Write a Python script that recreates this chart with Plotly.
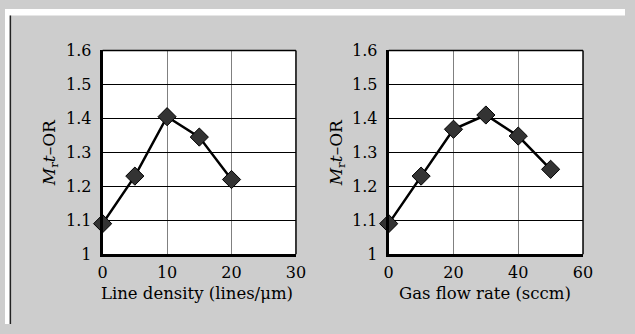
import plotly.graph_objects as go

# Data
x_left = [0, 5, 10, 15, 20]
y_left = [1.09, 1.23, 1.405, 1.345, 1.22]
x_right = [0, 10, 20, 30, 40, 50]
y_right = [1.09, 1.23, 1.368, 1.41, 1.348, 1.25]

x_left_title = "Line density (lines/μm)"
x_right_title = "Gas flow rate (sccm)"
y_title = "<i>M</i><sub>r</sub><i>t</i>–OR"

W, H = 635, 334
FONT = "DejaVu Serif"
BG = "#cdcdcd"

def fx(px):
    return px / W

def fy(py):
    return 1 - py / H

fig = go.Figure()
marker = dict(symbol="diamond", size=14, color="#333333", line=dict(color="black", width=1))
fig.add_trace(go.Scatter(x=x_left, y=y_left, mode="lines+markers", xaxis="x", yaxis="y",
                         line=dict(color="black", width=2.5), marker=marker, cliponaxis=False))
fig.add_trace(go.Scatter(x=x_right, y=y_right, mode="lines+markers", xaxis="x2", yaxis="y2",
                         line=dict(color="black", width=2.5), marker=marker, cliponaxis=False))

tickfont = dict(family=FONT, size=16, color="black")
xcommon = dict(showgrid=True, gridcolor="#808080", gridwidth=1, showline=True, linecolor="black",
               linewidth=3, ticks="", tickfont=tickfont, zeroline=False, fixedrange=True,
               ticklabelstandoff=2)
ycommon = dict(range=[1, 1.6], dtick=0.1, tick0=1, showgrid=True, gridcolor="black", gridwidth=1,
               showline=True, linecolor="black", linewidth=3, ticks="", tickfont=tickfont,
               zeroline=False, fixedrange=True, ticklabelstandoff=5)

ydom = [fy(260), fy(44)]
fig.update_layout(
    width=W, height=H,
    margin=dict(l=0, r=0, t=0, b=0),
    paper_bgcolor=BG, plot_bgcolor="white",
    showlegend=False,
    font=dict(family=FONT, color="black"),
    xaxis=dict(domain=[fx(100), fx(298)], range=[0, 30], dtick=10, anchor="y", **xcommon),
    yaxis=dict(domain=ydom, anchor="x", **ycommon),
    xaxis2=dict(domain=[fx(393), fx(592)], range=[0, 60], dtick=20, anchor="y2", **xcommon),
    yaxis2=dict(domain=ydom, anchor="x2", **ycommon),
)

shapes = [
    dict(type="rect", xref="paper", yref="paper", x0=0, x1=1, y0=fy(7), y1=1,
         fillcolor="white", line=dict(width=0), layer="below"),
    dict(type="rect", xref="paper", yref="paper", x0=0, x1=fx(5), y0=0, y1=1,
         fillcolor="white", line=dict(width=0), layer="below"),
    dict(type="line", xref="paper", yref="paper", x0=fx(5.5), x1=fx(5.5), y0=0, y1=fy(7),
         line=dict(color="#222222", width=1.5)),
]
for xa, ya in (("x", "y"), ("x2", "y2")):
    shapes.append(dict(type="line", xref=f"{xa} domain", yref=f"{ya} domain",
                       x0=0, x1=1, y0=1, y1=1, line=dict(color="black", width=1.5)))
    shapes.append(dict(type="line", xref=f"{xa} domain", yref=f"{ya} domain",
                       x0=1, x1=1, y0=0, y1=1, line=dict(color="black", width=1.5)))
fig.update_layout(shapes=shapes)

ann = []
for cx, t in ((197, x_left_title), (492, x_right_title)):
    ann.append(dict(text=t, xref="paper", yref="paper", x=fx(cx), y=fy(302), showarrow=False,
                    xanchor="center", yanchor="middle", font=dict(family=FONT, size=16.5)))
for cx in (46, 340):
    ann.append(dict(text=y_title, xref="paper", yref="paper", x=fx(cx), y=fy(152), showarrow=False,
                    textangle=-90, xanchor="center", yanchor="middle",
                    font=dict(family=FONT, size=17)))
fig.update_layout(annotations=ann)

fig.write_html("out.html")
